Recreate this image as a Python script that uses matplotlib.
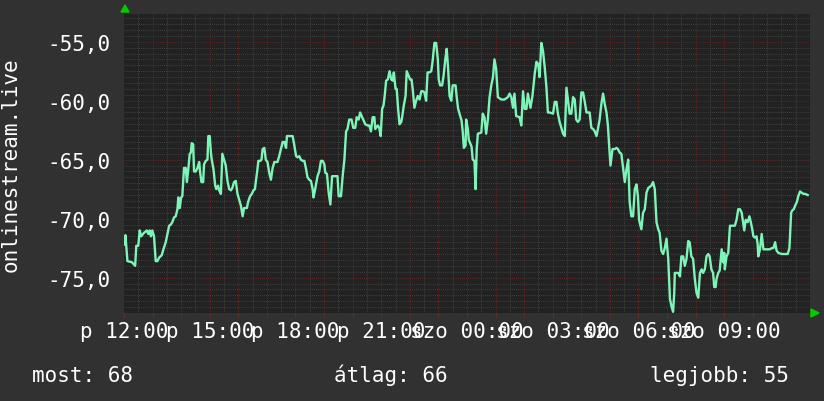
import numpy as np
import matplotlib
matplotlib.use("Agg")
import matplotlib.pyplot as plt
from matplotlib.ticker import MultipleLocator, FixedLocator

# ---------------------------------------------------------------------------
# DATA  (hours since 12:00, signal level)
# ---------------------------------------------------------------------------
hours = [
    0.02, 0.05, 0.12, 0.28, 0.39, 0.43, 0.50, 0.55, 0.60, 0.70, 0.80, 0.85, 0.90, 0.94, 0.99,
    1.05, 1.11, 1.17, 1.23, 1.32, 1.38, 1.46, 1.52, 1.58, 1.64, 1.69, 1.75, 1.81, 1.87, 1.90,
    1.95, 2.00, 2.04, 2.10, 2.16, 2.20, 2.25, 2.30, 2.34, 2.37, 2.42, 2.45, 2.51, 2.57, 2.63,
    2.66, 2.71, 2.77, 2.80, 2.86, 2.92, 2.95, 3.00, 3.04, 3.07, 3.13, 3.19, 3.23, 3.29, 3.33,
    3.39, 3.44, 3.50, 3.56, 3.62, 3.68, 3.74, 3.79, 3.85, 3.91, 3.97, 4.03, 4.09, 4.15, 4.20,
    4.30, 4.34, 4.41, 4.47, 4.53, 4.58, 4.61, 4.67, 4.70, 4.77, 4.81, 4.85, 4.91, 4.96, 5.02,
    5.08, 5.14, 5.20, 5.26, 5.37, 5.43, 5.49, 5.55, 5.61, 5.67, 5.70, 5.90, 5.96, 6.02, 6.07,
    6.13, 6.19, 6.25, 6.31, 6.37, 6.42, 6.48, 6.54, 6.60, 6.63, 6.68, 6.77, 6.83, 6.89, 6.95,
    7.01, 7.04, 7.10, 7.16, 7.22, 7.28, 7.42, 7.47, 7.51, 7.59, 7.65, 7.71, 7.77, 7.82, 7.88,
    7.96, 8.02, 8.09, 8.14, 8.21, 8.26, 8.33, 8.37, 8.44, 8.52, 8.58, 8.64, 8.70, 8.76, 8.79,
    8.88, 8.93, 8.98, 9.03, 9.08, 9.12, 9.17, 9.23, 9.29, 9.35, 9.40, 9.44, 9.50, 9.54, 9.59,
    9.64, 9.70, 9.73, 9.79, 9.85, 9.89, 9.96, 10.01, 10.06, 10.10, 10.16, 10.22, 10.28, 10.34, 10.40,
    10.46, 10.51, 10.57, 10.62, 10.69, 10.75, 10.80, 10.86, 10.92, 10.98, 11.01, 11.06, 11.13, 11.18, 11.24,
    11.29, 11.34, 11.39, 11.45, 11.50, 11.60, 11.64, 11.69, 11.76, 11.81, 11.85, 11.89, 11.95, 11.97, 12.03,
    12.06, 12.16, 12.20, 12.26, 12.30, 12.34, 12.38, 12.50, 12.55, 12.61, 12.67, 12.73, 12.79, 12.85, 12.91,
    12.96, 13.02, 13.08, 13.20, 13.31, 13.43, 13.49, 13.55, 13.61, 13.66, 13.72, 13.84, 13.90, 13.96, 14.02,
    14.08, 14.13, 14.22, 14.29, 14.37, 14.43, 14.49, 14.54, 14.60, 14.66, 14.72, 14.78, 14.83, 14.89, 15.01,
    15.07, 15.13, 15.18, 15.24, 15.36, 15.42, 15.48, 15.53, 15.59, 15.65, 15.71, 15.77, 15.82, 15.88, 15.94,
    16.00, 16.06, 16.12, 16.18, 16.29, 16.35, 16.41, 16.47, 16.53, 16.58, 16.64, 16.70, 16.76, 16.82, 16.88,
    16.93, 16.97, 17.02, 17.09, 17.17, 17.23, 17.28, 17.34, 17.40, 17.46, 17.52, 17.58, 17.64, 17.69, 17.75,
    17.81, 17.87, 17.93, 17.98, 18.02, 18.10, 18.16, 18.22, 18.28, 18.34, 18.45, 18.51, 18.57, 18.63, 18.69,
    18.74, 18.80, 18.86, 18.92, 18.98, 19.04, 19.10, 19.15, 19.21, 19.25, 19.27, 19.39, 19.45, 19.50, 19.56,
    19.62, 19.68, 19.74, 19.79, 19.85, 19.91, 19.97, 20.03, 20.09, 20.15, 20.21, 20.26, 20.32, 20.38, 20.44,
    20.49, 20.55, 20.61, 20.65, 20.70, 20.73, 20.79, 20.84, 20.91, 20.96, 21.00, 21.02, 21.08, 21.14, 21.20,
    21.31, 21.37, 21.43, 21.49, 21.55, 21.61, 21.66, 21.70, 21.75, 21.82, 21.88, 21.92, 21.98, 22.02, 22.07,
    22.13, 22.17, 22.19, 22.25, 22.31, 22.37, 22.49, 22.60, 22.66, 22.72, 22.78, 22.83, 22.89, 23.01, 23.12,
    23.22, 23.28, 23.34, 23.38, 23.43, 23.48, 23.54, 23.59, 23.65, 23.71, 23.77, 23.83, 23.92,
]
level = [
    -72.2, -71.4, -73.6, -73.7, -74.0, -72.3, -72.3, -71.0, -71.5, -71.2, -71.0, -71.3, -71.0, -71.5, -71.0,
    -71.5, -73.6, -73.6, -73.3, -73.1, -72.6, -72.0, -71.3, -70.6, -70.5, -70.3, -69.9, -69.8, -69.2, -68.2,
    -69.1, -68.2, -68.1, -65.7, -65.7, -66.9, -65.8, -64.5, -64.4, -63.6, -63.7, -66.0, -66.0, -65.7, -65.2,
    -66.0, -66.9, -66.9, -65.4, -65.1, -65.0, -63.0, -63.0, -64.4, -65.0, -65.8, -67.2, -67.5, -67.2, -67.6,
    -67.9, -64.5, -65.0, -65.5, -66.8, -67.5, -67.6, -67.4, -66.9, -66.8, -67.9, -68.4, -68.9, -69.8, -69.1,
    -69.1, -68.6, -68.1, -67.9, -67.6, -67.5, -66.9, -65.8, -65.1, -65.1, -65.0, -64.1, -64.0, -65.0, -65.2,
    -66.1, -66.7, -65.7, -65.2, -65.2, -64.7, -64.1, -63.5, -63.5, -64.0, -63.0, -63.0, -63.8, -64.7, -64.8,
    -64.7, -65.0, -65.1, -65.1, -65.8, -66.5, -66.7, -66.8, -67.5, -68.2, -67.6, -66.4, -66.0, -65.1, -65.1,
    -65.4, -66.1, -66.2, -67.8, -68.8, -66.4, -66.4, -66.4, -68.1, -68.1, -66.4, -65.0, -62.6, -62.4, -61.6,
    -61.6, -62.3, -62.3, -61.4, -61.6, -61.0, -61.4, -61.6, -62.0, -62.1, -62.1, -62.6, -61.4, -61.4, -62.4,
    -62.1, -62.3, -63.0, -60.7, -60.4, -59.6, -58.3, -58.2, -57.5, -58.2, -58.3, -57.6, -59.0, -59.0, -60.7,
    -62.0, -61.8, -61.4, -60.4, -59.6, -57.5, -57.9, -58.2, -58.2, -59.0, -60.6, -60.0, -59.6, -59.9, -59.2,
    -59.2, -59.3, -60.0, -57.6, -57.6, -57.5, -56.6, -55.1, -55.1, -56.5, -58.2, -58.7, -58.7, -57.9, -56.5,
    -55.6, -57.3, -59.6, -60.0, -58.7, -58.7, -59.7, -60.7, -61.3, -61.7, -62.6, -64.0, -63.8, -61.6, -62.4,
    -63.3, -63.9, -65.0, -65.1, -67.5, -64.1, -62.8, -62.7, -61.1, -61.4, -62.8, -61.6, -59.7, -58.7, -58.0,
    -56.5, -57.3, -59.7, -59.9, -59.9, -59.7, -59.4, -59.7, -60.6, -59.4, -61.3, -61.4, -62.1, -59.2, -60.7,
    -60.7, -59.4, -60.6, -59.6, -57.7, -56.7, -56.9, -58.0, -55.1, -55.8, -57.2, -58.9, -61.0, -61.0, -61.1,
    -60.1, -60.1, -61.1, -61.8, -62.8, -63.0, -58.9, -59.9, -61.1, -61.1, -59.7, -59.9, -61.6, -61.8, -61.6,
    -59.3, -59.3, -60.1, -61.0, -61.0, -62.3, -62.4, -62.6, -63.0, -62.4, -61.6, -60.3, -59.4, -60.3, -61.0,
    -62.1, -63.7, -65.5, -64.1, -64.1, -64.0, -64.1, -64.4, -64.5, -65.7, -66.9, -65.8, -65.0, -68.6, -69.8,
    -69.8, -67.5, -67.1, -68.1, -70.1, -70.9, -69.5, -69.2, -67.8, -67.4, -67.2, -66.9, -67.5, -70.3, -70.9,
    -71.2, -72.7, -73.0, -72.5, -71.7, -73.4, -76.8, -77.4, -77.9, -76.3, -74.6, -74.6, -74.9, -73.2, -73.2,
    -74.0, -73.4, -71.9, -72.0, -73.2, -73.4, -75.1, -76.3, -76.7, -74.6, -74.3, -74.6, -74.3, -73.2, -73.0,
    -73.2, -74.3, -74.6, -75.8, -75.8, -75.1, -74.6, -74.4, -72.6, -73.7, -72.9, -74.3, -73.2, -72.9, -70.6,
    -70.6, -70.6, -70.1, -69.2, -69.2, -69.5, -70.3, -71.0, -70.1, -70.3, -69.8, -70.2, -70.9, -71.5, -71.6,
    -71.5, -72.2, -73.2, -72.6, -71.3, -72.6, -72.6, -72.6, -72.5, -72.5, -72.0, -72.7, -72.9, -73.0, -73.0,
    -73.0, -72.5, -69.5, -69.3, -69.2, -68.9, -68.6, -68.1, -67.7, -67.8, -67.9, -67.9, -68.0,
]

tick_hours = [0, 3, 6, 9, 12, 15, 18, 21]
tick_labels = ["p 12:00", "p 15:00", "p 18:00", "p 21:00",
               "szo 00:00", "szo 03:00", "szo 06:00", "szo 09:00"]
y_ticks = [-75, -70, -65, -60, -55]
legend_items = [("most: 68", 32), ("átlag: 66", 334), ("legjobb: 55", 650)]

# ---------------------------------------------------------------------------
# STYLE
# ---------------------------------------------------------------------------
CANVAS = "#313131"
BACK = "#222222"
LINE = "#7df5b9"
MINOR = "#4a4a4a"
MAJOR = "#6e2a2a"
FONT = "DejaVu Sans Mono"
W, H = 824, 402

fig = plt.figure(figsize=(W / 100, H / 100), dpi=100, facecolor=CANVAS)
ax = fig.add_axes([124 / W, 1 - 314 / H, 686 / W, 299 / H], facecolor=BACK)

ax.set_xlim(0, 24)
ax.set_ylim(-78.0, -52.65)

# grid: gray every 30 min / 0.5, red every hour / 5
dots = (0, (1, 1.5))
for h in np.arange(0.5, 24, 0.5):
    c = MAJOR if h % 1 == 0 else MINOR
    ax.axvline(h, color=c, lw=0.6, ls=dots, zorder=1)
for v in np.arange(-77.5, -52.6, 0.5):
    c = MAJOR if v % 5 == 0 else MINOR
    ax.axhline(v, color=c, lw=0.6, ls=dots, zorder=1)

ax.plot(hours, level, color=LINE, lw=1.7, zorder=3)

ax.xaxis.set_major_locator(FixedLocator(tick_hours))
ax.set_xticklabels(tick_labels)
ax.xaxis.set_minor_locator(MultipleLocator(1))
ax.set_yticks(y_ticks)
ax.set_yticklabels([f"{v:.1f}".replace(".", ",") for v in y_ticks])

ax.tick_params(axis="x", which="major", colors=MAJOR, length=3, pad=3,
               labelcolor="white", labelsize=15)
ax.tick_params(axis="x", which="minor", colors=MAJOR, length=3)
ax.tick_params(axis="y", colors=MAJOR, length=0, pad=10,
               labelcolor="white", labelsize=15)
for lbl in ax.get_xticklabels() + ax.get_yticklabels():
    lbl.set_fontfamily(FONT)

for s in ax.spines.values():
    s.set_visible(False)

ax.set_ylabel("onlinestream.live", color="white", fontsize=15,
              fontfamily=FONT, labelpad=19)

# rrdtool style arrows on the axes
fig.patches.append(plt.Polygon([[121 / W, 1 - 13 / H], [129 / W, 1 - 13 / H], [125 / W, 1 - 6 / H]],
                               closed=True, color="#00cc00", transform=fig.transFigure))
fig.patches.append(plt.Polygon([[811 / W, 1 - 310 / H], [811 / W, 1 - 318 / H], [819 / W, 1 - 314 / H]],
                               closed=True, color="#00cc00", transform=fig.transFigure))

for text, x in legend_items:
    fig.text(x / W, 1 - 382 / H, text, color="white", fontsize=15,
             fontfamily=FONT, va="baseline", ha="left")

fig.savefig("out.png", dpi=100, facecolor=CANVAS)
